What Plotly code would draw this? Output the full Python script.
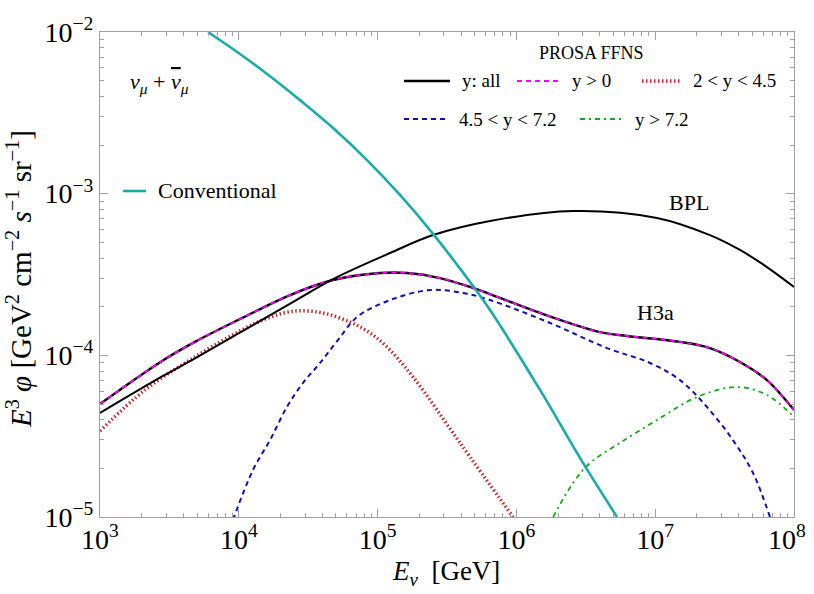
import plotly.graph_objects as go

# ---------------------------------------------------------------------------
# Data (E in GeV, E^3 phi in GeV^2 cm^-2 s^-1 sr^-1)
# ---------------------------------------------------------------------------

bpl_e = [1.0e3, 2.8e3, 4.83e3, 1.054e4, 2.54e4, 4.78e4, 1.23e5, 2.51e5,
         6.46e5, 2.56e6, 1.03e7, 2.48e7, 4.08e7, 6.38e7, 1.0e8]
bpl_flux = [4.40e-5, 7.40e-5, 9.57e-5, 1.406e-4, 2.173e-4, 2.965e-4, 4.295e-4, 5.546e-4,
            6.776e-4, 7.816e-4, 7.079e-4, 5.546e-4, 4.487e-4, 3.516e-4, 2.649e-4]

h3a_e = [1.0e3, 2.8e3, 4.83e3, 1.054e4, 2.34e4, 4.78e4, 1.04e5, 1.63e5, 2.82e5, 4.86e5,
         7.62e5, 1.48e6, 4.0e6, 6.27e6, 1.51e7, 2.48e7, 4.08e7, 6.38e7, 1.0e8]
h3a_all = [5.0e-5, 9.23e-5, 1.211e-4, 1.70e-4, 2.36e-4, 2.924e-4, 3.228e-4, 3.228e-4,
           3.006e-4, 2.612e-4, 2.265e-4, 1.828e-4, 1.393e-4, 1.318e-4, 1.211e-4, 1.109e-4,
           9.10e-5, 7.03e-5, 4.59e-5]
h3a_ypos = h3a_all  # y > 0 coincides with y: all

red_e = [1.0e3, 2.11e3, 4.83e3, 1.054e4, 1.62e4, 2.54e4, 4.05e4, 6.32e4, 8.39e4,
         1.13e5, 1.80e5, 3.93e5, 9.46e5]
red_flux = [3.40e-5, 6.11e-5, 9.77e-5, 1.435e-4, 1.703e-4, 1.879e-4, 1.828e-4, 1.607e-4,
            1.416e-4, 1.159e-4, 7.35e-5, 2.87e-5, 1.0e-5]

blue_e = [9.08e3, 1.265e4, 1.68e4, 2.22e4, 2.90e4, 3.85e4, 5.19e4, 7.11e4, 1.23e5, 2.39e5,
          4.12e5, 6.46e5, 1.75e6, 4.50e6, 9.18e6, 1.51e7, 2.36e7, 3.63e7, 5.07e7, 6.71e7]
blue_flux = [9.6e-6, 1.954e-5, 2.992e-5, 4.786e-5, 6.745e-5, 8.974e-5, 1.245e-4, 1.726e-4,
             2.198e-4, 2.535e-4, 2.432e-4, 2.198e-4, 1.585e-4, 1.109e-4, 8.97e-5, 7.03e-5,
             4.79e-5, 2.99e-5, 1.87e-5, 1.0e-5]

green_e = [1.84e6, 2.56e6, 3.39e6, 5.57e6, 1.03e7, 2.0e7, 3.88e7, 6.38e7, 1.0e8]
green_flux = [1.0e-5, 1.622e-5, 2.158e-5, 2.871e-5, 3.981e-5, 5.521e-5, 6.368e-5,
              5.689e-5, 4.159e-5]

conv_e = [6.0e3, 1.02e4, 1.60e4, 2.76e4, 4.78e4, 8.39e4, 1.45e5, 2.51e5, 4.86e5,
          6.46e5, 1.48e6, 3.02e6, 5.31e6]
conv_flux = [1.0e-2, 7.31e-3, 5.50e-3, 3.79e-3, 2.55e-3, 1.614e-3, 9.82e-4, 5.64e-4,
             2.69e-4, 1.905e-4, 6.11e-5, 2.16e-5, 1.0e-5]

x_tickvals = [1e3, 1e4, 1e5, 1e6, 1e7, 1e8]
x_ticktext = ["10<sup>3</sup>", "10<sup>4</sup>", "10<sup>5</sup>",
              "10<sup>6</sup>", "10<sup>7</sup>", "10<sup>8</sup>\u00a0\u00a0"]
y_tickvals = [1e-5, 1e-4, 1e-3, 1e-2]
y_ticktext = ["10<sup>\u22125</sup>", "10<sup>\u22124</sup>",
              "10<sup>\u22123</sup>", "10<sup>\u22122</sup>"]

# ---------------------------------------------------------------------------
# Styling
# ---------------------------------------------------------------------------

FONT = "Liberation Serif"
FRAME = "#a0a0a0"
CYAN = "#1aaaaa"
MAGENTA = "#ff00ff"
RED = "#c0282a"
BLUE = "#1010b0"
GREEN = "#14aa14"

W, H = 814, 594
L, R, T, B = 100, 20, 32, 77


def px(x):
    return (x - L) / (W - L - R)


def py(y):
    return (H - B - y) / (H - T - B)


def line(x, y, color, width, dash="solid", name=None):
    return go.Scatter(
        x=x, y=y, mode="lines", name=name, showlegend=False,
        line=dict(color=color, width=width, dash=dash, shape="spline", smoothing=1.0),
        hoverinfo="skip",
    )


fig = go.Figure()
fig.add_trace(line(h3a_e, h3a_all, "black", 2.4, name="y: all"))
fig.add_trace(line(h3a_e, h3a_ypos, MAGENTA, 1.8, "5px,4px", name="y > 0"))
fig.add_trace(line(red_e, red_flux, RED, 3.5, "1.5px,2.5px", name="2 < y < 4.5"))
fig.add_trace(line(blue_e, blue_flux, BLUE, 2, "5px,4px", name="4.5 < y < 7.2"))
fig.add_trace(line(green_e, green_flux, GREEN, 1.8, "5px,4px,2px,4px", name="y > 7.2"))
fig.add_trace(line(bpl_e, bpl_flux, "black", 2, name="BPL"))
fig.add_trace(line(conv_e, conv_flux, CYAN, 2.6, name="Conventional"))

minor_x = [m * 10 ** k for k in range(3, 8) for m in range(2, 10)]
minor_y = [m * 10.0 ** k for k in range(-5, -2) for m in range(2, 10)]

axis_common = dict(
    type="log",
    automargin=False,
    showgrid=False,
    zeroline=False,
    showline=True,
    linecolor=FRAME,
    linewidth=1,
    mirror="ticks",
    ticks="inside",
    ticklen=8,
    tickcolor=FRAME,
    tickmode="array",
    ticklabeloverflow="allow",
    tickfont=dict(family=FONT, size=28, color="black"),
)

fig.update_xaxes(
    **axis_common,
    range=[3, 8],
    tickvals=x_tickvals,
    ticktext=x_ticktext,
    ticklabelstandoff=-3,
    minor=dict(ticks="inside", ticklen=4, tickcolor=FRAME, tickvals=minor_x, showgrid=False),
)
fig.update_yaxes(
    **axis_common,
    range=[-5, -2],
    tickvals=y_tickvals,
    ticktext=y_ticktext,
    minor=dict(ticks="inside", ticklen=4, tickcolor=FRAME, tickvals=minor_y, showgrid=False),
)

# Legend drawn by hand to match the two-row layout
shapes = []
annotations = []


def legend_item(x0, x1, y, color, width, dash, label, size=19):
    shapes.append(dict(type="line", xref="paper", yref="paper",
                       x0=px(x0), x1=px(x1), y0=py(y), y1=py(y),
                       line=dict(color=color, width=width, dash=dash)))
    annotations.append(dict(xref="paper", yref="paper", x=px(x1 + 10), y=py(y),
                            xanchor="left", yanchor="middle", showarrow=False,
                            text=label, font=dict(family=FONT, size=size, color="black")))


legend_item(404, 450, 81, "black", 2.4, "solid", "y: all")
legend_item(517, 560, 81, MAGENTA, 1.8, "5px,4px", "y &gt; 0")
legend_item(642, 681, 81, RED, 3.5, "1.5px,2.5px", "2 &lt; y &lt; 4.5")
legend_item(404, 447, 119, BLUE, 2, "5px,4px", "4.5 &lt; y &lt; 7.2")
legend_item(580, 623, 119, GREEN, 1.8, "5px,4px,2px,4px", "y &gt; 7.2")
legend_item(123, 146, 191, CYAN, 2.6, "solid", "Conventional", size=22)


def label(x, y, text, size=22, xanchor="center", yanchor="middle", angle=0):
    annotations.append(dict(xref="paper", yref="paper", x=px(x), y=py(y),
                            xanchor=xanchor, yanchor=yanchor, showarrow=False,
                            textangle=angle, text=text,
                            font=dict(family=FONT, size=size, color="black")))


label(591, 53, "PROSA FFNS", size=18)
label(128, 83, "<i>\u03bd</i><sub><i>\u03bc</i></sub> + "
      "<i><span style='text-decoration:overline'>\u03bd</span></i><sub><i>\u03bc</i></sub>",
      size=22, xanchor="left")
label(689, 202, "BPL")
label(655, 313, "H3a")
label(446, 592, "<i>E</i><sub><i>\u03bd</i></sub>  [GeV]", size=27, yanchor="bottom")
label(19, 279, "<i>E</i><sup>3</sup> <i>\u03c6</i> [GeV<sup>2</sup> cm<sup>\u22122</sup> "
      "<i>s</i><sup>\u22121</sup> sr<sup>\u22121</sup>]", size=29, angle=-90)

fig.update_layout(
    width=W,
    height=H,
    margin=dict(l=L, r=R, t=T, b=B),
    paper_bgcolor="white",
    plot_bgcolor="white",
    showlegend=False,
    shapes=shapes,
    annotations=annotations,
    font=dict(family=FONT, color="black"),
)

# drop the default page margin so the figure sits at the window's corner
fig.write_html(
    "out.html",
    config={"displayModeBar": False},
    post_script="document.body.style.margin = '0px';",
)
